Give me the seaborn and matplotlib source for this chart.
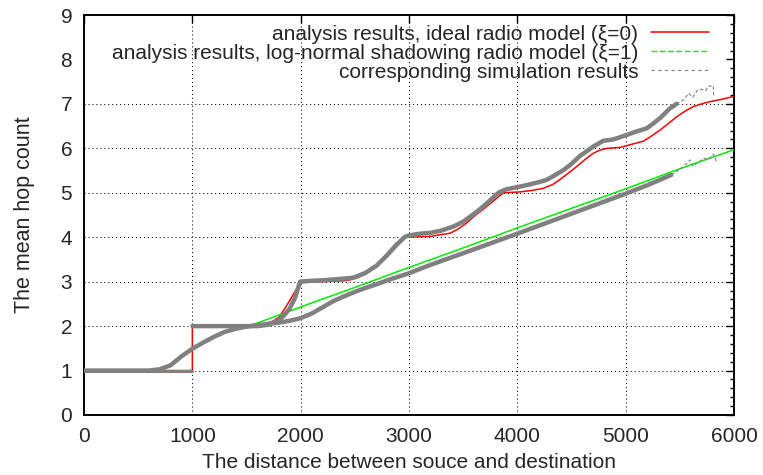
import matplotlib
matplotlib.use("Agg")
import matplotlib.pyplot as plt
from matplotlib.lines import Line2D
from matplotlib.ticker import MultipleLocator
import seaborn as sns
import pandas as pd

# ---------------- data ----------------
red_x = [0, 1000, 1000, 1500, 1600, 1700, 1750, 1800, 1850, 1900, 1950, 2000,
         2200, 2400, 2455, 2520, 2578, 2640, 2700, 2760, 2825, 2880, 2917, 2979,
         3100, 3200, 3300, 3378, 3450, 3532, 3600, 3686, 3717, 3800, 3871, 3950,
         4025, 4130, 4240, 4330, 4394, 4470, 4548, 4620, 4701, 4763, 4825, 4948,
         5009, 5070, 5163, 5240, 5317, 5400, 5471, 5550, 5625, 5700, 5778, 5900, 6000]
red_y = [1.0, 1.0, 2.0, 2.0, 2.01, 2.07, 2.12, 2.2, 2.38, 2.58, 2.79, 3.0,
         3.0, 3.02, 3.04, 3.09, 3.15, 3.26, 3.375, 3.53, 3.71, 3.86, 3.94, 4.0,
         4.01, 4.02, 4.06, 4.09, 4.18, 4.32, 4.47, 4.63, 4.69, 4.86, 5.0, 5.01,
         5.02, 5.05, 5.1, 5.19, 5.3, 5.44, 5.59, 5.74, 5.89, 5.96, 6.0, 6.02,
         6.06, 6.1, 6.16, 6.28, 6.41, 6.57, 6.71, 6.84, 6.94, 7.0, 7.05, 7.11, 7.17]

green_x = [0, 600, 700, 800, 900, 1000, 1100, 1200, 1300, 1400, 1500, 1600,
           1800, 2000, 2179, 2500, 3000, 3500, 4000, 4500, 5000, 5500, 6000]
green_y = [1.0, 1.0, 1.03, 1.12, 1.32, 1.49, 1.63, 1.76, 1.87, 1.94, 1.99, 2.07,
           2.25, 2.43, 2.59, 2.87, 3.32, 3.76, 4.21, 4.65, 5.09, 5.54, 5.97]

# simulation, ideal radio model
sim_ideal_low_x = [0, 999]
sim_ideal_low_y = [1.0, 1.0]
sim_ideal_x = [1001, 1600, 1700, 1800, 1850, 1900, 1950, 1994, 2100, 2200, 2300,
               2400, 2455, 2500, 2600, 2700, 2800, 2886, 2963, 3000, 3100, 3200,
               3300, 3409, 3500, 3563, 3650, 3717, 3800, 3840, 3900, 4025, 4100,
               4200, 4271, 4350, 4425, 4500, 4578, 4650, 4701, 4794, 4886, 5009,
               5100, 5194, 5250, 5317, 5409, 5470]
sim_ideal_y = [2.0, 2.0, 2.03, 2.13, 2.25, 2.4, 2.65, 3.0, 3.02, 3.03, 3.05,
               3.07, 3.08, 3.1, 3.2, 3.36, 3.6, 3.83, 4.01, 4.04, 4.08, 4.1,
               4.15, 4.24, 4.35, 4.46, 4.62, 4.76, 4.95, 5.02, 5.08, 5.14, 5.18,
               5.24, 5.29, 5.4, 5.51, 5.65, 5.83, 5.95, 6.04, 6.17, 6.2, 6.3,
               6.38, 6.45, 6.55, 6.68, 6.9, 7.0]
sim_ideal_tail_x = [5470, 5540, 5580, 5620, 5660, 5700, 5740, 5760, 5810, 5812]
sim_ideal_tail_y = [7.0, 7.1, 7.24, 7.15, 7.3, 7.33, 7.3, 7.4, 7.4, 7.15]

# simulation, log-normal shadowing radio model
sim_shadow_x = [0, 600, 700, 800, 900, 1000, 1100, 1200, 1300, 1400, 1500, 1600,
                1700, 1800, 1900, 2000, 2100, 2200, 2300, 2400, 2500, 2600, 2700,
                2800, 2900, 3000, 3200, 3500, 4000, 4500, 5000, 5200, 5420]
sim_shadow_y = [1.0, 1.0, 1.03, 1.12, 1.32, 1.49, 1.63, 1.76, 1.87, 1.94, 1.99,
                2.02, 2.05, 2.08, 2.12, 2.18, 2.28, 2.42, 2.56, 2.67, 2.77, 2.86,
                2.94, 3.03, 3.11, 3.19, 3.38, 3.64, 4.08, 4.53, 4.98, 5.17, 5.4]
sim_shadow_tail_x = [5420, 5480, 5530, 5594, 5620, 5680, 5720, 5760, 5810, 5840]
sim_shadow_tail_y = [5.4, 5.5, 5.58, 5.74, 5.6, 5.7, 5.78, 5.75, 5.87, 5.7]

x_ticks = [0, 1000, 2000, 3000, 4000, 5000, 6000]
y_ticks = [0, 1, 2, 3, 4, 5, 6, 7, 8, 9]

labels = ["analysis results, ideal radio model (\u03be=0)",
          "analysis results, log-normal shadowing radio model (\u03be=1)",
          "corresponding simulation results"]

# ---------------- style ----------------
sns.set_style("white")
plt.rcParams["font.family"] = ["Liberation Sans", "DejaVu Sans"]
FS = 15
plt.rcParams["font.size"] = FS

RED = "#ff0000"
GREEN = "#00ee00"
GRAY = "#808080"

fig = plt.figure(figsize=(7.63, 4.75), dpi=100)
ax = fig.add_axes([84 / 763, 1 - 415 / 475, 650 / 763, 400 / 475])

def draw(xs, ys, **kw):
    df = pd.DataFrame({"x": xs, "y": ys})
    sns.lineplot(data=df, x="x", y="y", estimator=None, sort=False, ax=ax, **kw)

draw(red_x, red_y, color=RED, lw=1.1, zorder=3)
draw(green_x, green_y, color=GREEN, lw=1.1, zorder=3)
draw(sim_ideal_low_x, sim_ideal_low_y, color=GRAY, lw=2.2, zorder=4)
draw(sim_ideal_x, sim_ideal_y, color=GRAY, lw=3.2, zorder=4)
draw(sim_shadow_x, sim_shadow_y, color=GRAY, lw=3.2, zorder=4)
draw(sim_ideal_tail_x, sim_ideal_tail_y, color=GRAY, lw=0.8,
     linestyle=(0, (3, 2)), zorder=4)
draw(sim_shadow_tail_x, sim_shadow_tail_y, color=GRAY, lw=0.8,
     linestyle=(0, (3, 2)), zorder=4)

ax.set_xlim(0, 6000)
ax.set_ylim(0, 9)
ax.set_xticks(x_ticks)
ax.set_yticks(y_ticks)
ax.yaxis.set_minor_locator(MultipleLocator(0.2))
ax.tick_params(which="both", direction="in", top=True, right=True,
               width=1, color="black", labelsize=FS)
ax.tick_params(which="major", length=6)
ax.tick_params(axis="x", which="major", pad=9)
ax.tick_params(axis="y", which="major", pad=8.5)
ax.tick_params(which="minor", length=3)
ax.tick_params(axis="x", which="minor", length=0)

ax.set_axisbelow(True)
ax.grid(True, which="major", color="black", lw=0.75, linestyle=(0, (1, 2.8)))
# gridline at y=8 is not shown in the reference
ax.yaxis.get_major_ticks()[8].gridline.set_visible(False)

for s in ax.spines.values():
    s.set_linewidth(1.4)
    s.set_color("black")

ax.set_xlabel("The distance between souce and destination", fontsize=FS, labelpad=5)
ax.set_ylabel("The mean hop count", fontsize=15.5, labelpad=18)

handles = [Line2D([], [], color=RED, lw=1.1),
           Line2D([], [], color=GREEN, lw=1.0, linestyle=(0, (4, 2))),
           Line2D([], [], color=GRAY, lw=0.8, linestyle=(0, (3, 3)))]
leg = ax.legend(handles, labels, loc="upper right", bbox_to_anchor=(0.9615, 0.976),
                frameon=False, markerfirst=False, handlelength=2.8,
                handletextpad=0.6, labelspacing=0.0, borderpad=0,
                borderaxespad=0, fontsize=FS)
for col in leg._legend_handle_box.get_children():
    col.align = "right"

fig.savefig("out.png", dpi=100)
